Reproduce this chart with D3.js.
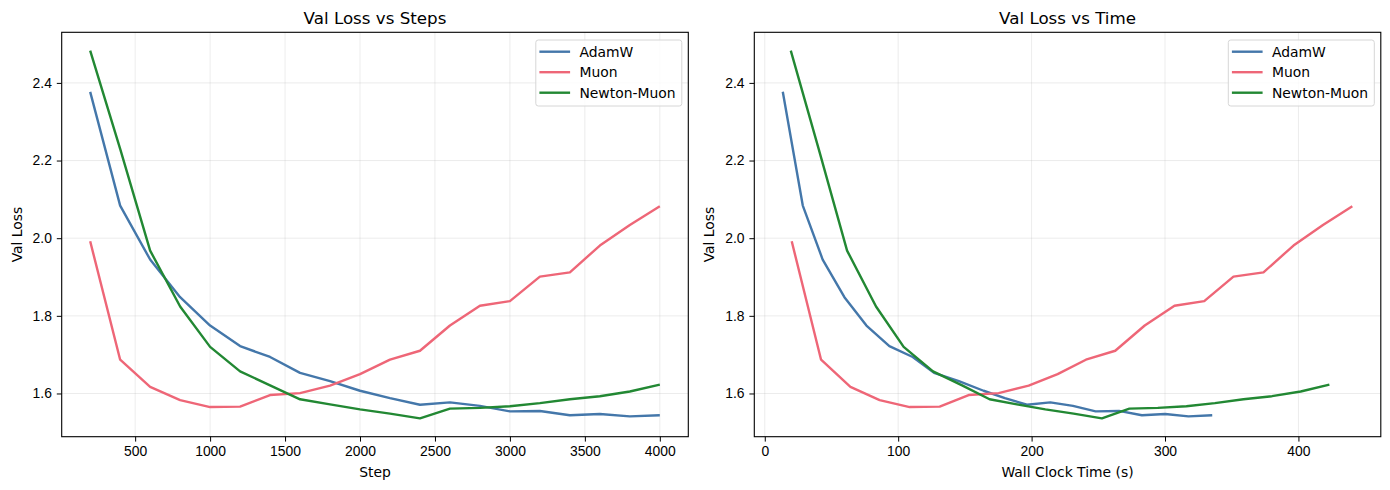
<!DOCTYPE html>
<html>
<head>
<meta charset="utf-8">
<script src="https://cdn.jsdelivr.net/npm/d3@7"></script>
<style>
  body { margin: 0; background: #fff; }
  svg { display: block; font-family: "DejaVu Sans", sans-serif; }
  .tick text { font-size: 13.9px; fill: #000; }
  .grid line { stroke: #b0b0b0; stroke-opacity: 0.3; stroke-width: 0.8; }
</style>
</head>
<body>
<svg id="fig" width="1390" height="490"></svg>
<script>
// validation loss, one value per eval (every 200 steps)
var steps = [200, 400, 600, 800, 1000, 1200, 1400, 1600, 1800, 2000,
             2200, 2400, 2600, 2800, 3000, 3200, 3400, 3600, 3800, 4000];

var adamw_loss = [2.377, 2.084, 1.945, 1.848, 1.775, 1.722, 1.694, 1.653, 1.632, 1.607,
                  1.588, 1.571, 1.577, 1.568, 1.554, 1.555, 1.544, 1.547, 1.541, 1.544];
var muon_loss = [1.992, 1.687, 1.617, 1.583, 1.565, 1.566, 1.596, 1.601, 1.620, 1.650,
                 1.687, 1.710, 1.775, 1.826, 1.838, 1.901, 1.912, 1.981, 2.034, 2.082];
var newton_loss = [2.483, 2.230, 1.968, 1.824, 1.720, 1.657, 1.621, 1.585, 1.572, 1.559,
                   1.548, 1.536, 1.561, 1.563, 1.567, 1.575, 1.585, 1.593, 1.605, 1.623];

// wall clock seconds at each eval
var adamw_time = [13.5, 28.5, 43.4, 59.7, 76.2, 93.4, 110.9, 126.9, 145.5, 164.0,
                  180.0, 196.5, 214.0, 231.0, 248.0, 265.5, 282.7, 300.1, 317.6, 335.4];
var muon_time = [20.2, 42.2, 64.2, 86.1, 108.6, 131.1, 152.8, 175.3, 197.8, 219.5,
                 240.7, 262.7, 284.8, 307.1, 329.4, 351.3, 373.8, 396.3, 418.4, 440.4];
var newton_time = [19.5, 40.4, 61.7, 83.4, 104.1, 126.1, 147.9, 168.5, 189.0, 210.3,
                   231.5, 252.7, 273.3, 294.6, 316.0, 337.4, 358.8, 380.2, 401.7, 423.2];

var names = ["AdamW", "Muon", "Newton-Muon"];
var colors = ["#4477AA", "#EE6677", "#228833"];

var step_ticks = [500, 1000, 1500, 2000, 2500, 3000, 3500, 4000];
var time_ticks = [0, 100, 200, 300, 400];
var loss_ticks = [1.6, 1.8, 2.0, 2.2, 2.4];

var svg = d3.select("#fig");
var top_y = 32.3, bottom_y = 436.7;

// matplotlib style 5% margins around the data
function padded(vals) {
    var ext = d3.extent(vals);
    var pad = (ext[1] - ext[0]) * 0.05;
    return [ext[0] - pad, ext[1] + pad];
}

var all_loss = adamw_loss.concat(muon_loss, newton_loss);

function draw_panel(left, right, title, xlabel, xs_list, xticks) {
    var g = svg.append("g");
    var x = d3.scaleLinear()
        .domain(padded([].concat.apply([], xs_list)))
        .range([left, right]);
    var y = d3.scaleLinear()
        .domain(padded(all_loss))
        .range([bottom_y, top_y]);

    // grid
    g.append("g").attr("class", "grid")
      .selectAll("line").data(xticks).enter().append("line")
        .attr("x1", function(d) { return x(d); })
        .attr("x2", function(d) { return x(d); })
        .attr("y1", top_y).attr("y2", bottom_y);
    g.append("g").attr("class", "grid")
      .selectAll("line").data(loss_ticks).enter().append("line")
        .attr("y1", function(d) { return y(d); })
        .attr("y2", function(d) { return y(d); })
        .attr("x1", left).attr("x2", right);

    var losses = [adamw_loss, muon_loss, newton_loss];
    var line = d3.line()
        .x(function(d) { return x(d[0]); })
        .y(function(d) { return y(d[1]); });
    for (var i = 0; i < 3; i++) {
        var pts = d3.zip(xs_list[i], losses[i]);
        g.append("path")
          .attr("d", line(pts))
          .attr("fill", "none")
          .attr("stroke", colors[i])
          .attr("stroke-width", 2.4)
          .attr("stroke-linejoin", "round");
    }

    // axes
    var xa = g.append("g")
      .attr("transform", "translate(0," + bottom_y + ")")
      .call(d3.axisBottom(x).tickValues(xticks).tickSize(4.9).tickPadding(4.9).tickFormat(d3.format("d")));
    var ya = g.append("g")
      .attr("transform", "translate(" + left + ",0)")
      .call(d3.axisLeft(y).tickValues(loss_ticks).tickSize(4.9).tickPadding(4.9).tickFormat(d3.format(".1f")));
    [xa, ya].forEach(function(a) {
        a.select(".domain").remove();
        a.selectAll(".tick line").attr("stroke", "#000").attr("stroke-width", 1);
    });

    g.append("rect")
      .attr("x", left).attr("y", top_y)
      .attr("width", right - left).attr("height", bottom_y - top_y)
      .attr("fill", "none").attr("stroke", "#000").attr("stroke-width", 1.1);

    g.append("text")
      .attr("x", (left + right) / 2).attr("y", 24)
      .attr("text-anchor", "middle")
      .style("font-size", "16.7px")
      .text(title);
    g.append("text")
      .attr("x", (left + right) / 2).attr("y", 477)
      .attr("text-anchor", "middle")
      .style("font-size", "13.9px")
      .text(xlabel);
    g.append("text")
      .attr("transform", "translate(" + (left - 40) + "," + ((top_y + bottom_y) / 2) + ")rotate(-90)")
      .attr("text-anchor", "middle")
      .style("font-size", "13.9px")
      .text("Val Loss");

    // legend
    var lx = right - 152.5, ly = 40;
    var leg = g.append("g");
    leg.append("rect")
      .attr("x", lx).attr("y", ly).attr("width", 146).attr("height", 66)
      .attr("rx", 2.5)
      .attr("fill", "#fff").attr("fill-opacity", 0.8)
      .attr("stroke", "#d6d6d6").attr("stroke-width", 1);
    names.forEach(function(n, i) {
        var ry = ly + 11.7 + i * 20.5;
        leg.append("line")
          .attr("x1", lx + 3.6).attr("x2", lx + 34.3)
          .attr("y1", ry).attr("y2", ry)
          .attr("stroke", colors[i]).attr("stroke-width", 2.4);
        leg.append("text")
          .attr("x", lx + 43.6).attr("y", ry + 5)
          .style("font-size", "13.9px")
          .text(n);
    });
}

draw_panel(61.7, 688.3, "Val Loss vs Steps", "Step", [steps, steps, steps], step_ticks);
draw_panel(754.3, 1380.8, "Val Loss vs Time", "Wall Clock Time (s)",
           [adamw_time, muon_time, newton_time], time_ticks);
</script>
</body>
</html>
